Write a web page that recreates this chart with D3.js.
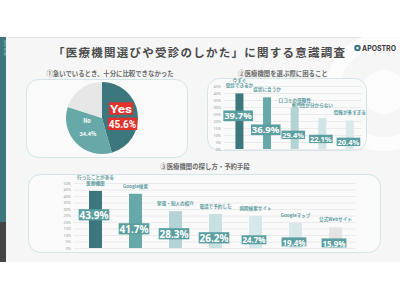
<!DOCTYPE html>
<html><head><meta charset="utf-8">
<script src="https://cdn.jsdelivr.net/npm/d3@7/dist/d3.min.js"></script>
<style>
html,body{margin:0;padding:0;background:#fff;}
svg{display:block;font-family:"Noto Sans CJK JP","Noto Sans",sans-serif;}
</style></head>
<body><svg id="c" width="400" height="300"></svg>
<script>
// ---- data ----
const titleText = "「医療機関選びや受診のしかた」に関する意識調査";
const q1Title = "①急いでいるとき、十分に比較できなかった";
const q2Title = "②医療機関を選ぶ際に困ること";
const q3Title = "③医療機関の探し方・予約手段";
const pieLabels = ["Yes", "No", "その他"];
const pieValues = [45.6, 34.4, 20.0];
const q2Categories = ["今すぐ\n受診できるか", "症状に合うか", "口コミの信頼性", "専門性が分からない", "情報が多すぎる"];
const q2Values = [39.7, 36.9, 29.4, 22.1, 20.4];
const q2Ticks = [0, 5, 10, 15, 20, 25, 30, 35, 40, 45];
const q3Categories = ["行ったことがある\n医療機関", "Google検索", "家族・知人の紹介", "電話で予約した", "病院検索サイト", "Googleマップ", "公式Webサイト"];
const q3Values = [43.9, 41.7, 28.3, 26.2, 24.7, 19.4, 15.9];
const q3Ticks = [0, 5, 10, 15, 20, 25, 30, 35, 40, 45, 50];

// ---- layout / style ----
const q2LabelAt = [23.6, 13.6, 10, 7.1, 5];
const q3LabelAt = [25.4, 14.6, 10.8, 7.7, 6.2, 4.6, 3.8];
const q2CatDx = [0, 0, 0, -10, 0];
const q2CatDy = [0, 0, 0, -5, 0];
const q2Colors = ["#3c777d", "#67a8a9", "#b3d3d4", "#d2e5e6", "#dce9ea"];
const q3Colors = ["#3c777d", "#67a8a9", "#b3d3d4", "#c9e0e1", "#d6e8e9", "#d9e8e9", "#e4e4e4"];
const pieColors = ["#3c777d", "#67a8a9", "#e6e6e6"];
const labelBg = "#5c9fa1";
const catColor = "#5a9c9e";

const svg = d3.select("#c");
// slide background
svg.append("rect").attr("x",0).attr("y",37).attr("width",400).attr("height",225).attr("fill","#f6f6f6");
svg.append("line").attr("x1",0).attr("x2",400).attr("y1",37.5).attr("y2",37.5).attr("stroke","#e2e2e2");
// decorative rings
const deco = svg.append("g").attr("opacity",0.85);
deco.append("circle").attr("cx",384).attr("cy",92).attr("r",52).attr("fill","none").attr("stroke","#fff").attr("stroke-width",14);
deco.append("circle").attr("cx",384).attr("cy",92).attr("r",22).attr("fill","#fff");
// left strip
svg.append("rect").attr("x",0).attr("y",37).attr("width",6).attr("height",185).attr("fill","#3c777d");
svg.append("rect").attr("x",0).attr("y",222).attr("width",6).attr("height",40).attr("fill","#454545");
svg.append("text").attr("transform","translate(3.8,40) rotate(90)").attr("font-size",2.5).attr("fill","#cfe2e3").text("APOSTRO INC.");

// title
svg.append("text").attr("x",53).attr("y",57).attr("font-size",11.5).attr("font-weight",700).attr("fill","#4a4a4a")
  .attr("textLength",292).attr("lengthAdjust","spacing").text(titleText);
// logo
const logo = svg.append("g");
logo.append("circle").attr("cx",357.5).attr("cy",48).attr("r",3.3).attr("fill","#3c777d");
logo.append("circle").attr("cx",357.5).attr("cy",48).attr("r",1.2).attr("fill","#f6f6f6");
logo.append("text").attr("x",362).attr("y",50.7).attr("font-family","Inter, 'Noto Sans', sans-serif").attr("font-size",7).attr("font-weight",700).attr("fill","#3a3a3a")
  .attr("textLength",34).attr("lengthAdjust","spacingAndGlyphs").text("APOSTRO");

// panels
function panel(x,y,w,h){
  svg.append("rect").attr("x",x).attr("y",y).attr("width",w).attr("height",h).attr("rx",12)
    .attr("fill","#fafafa").attr("stroke","#d3e5e6").attr("stroke-width",1);
}
panel(26.5,79.5,161,78);
panel(207.5,78.5,159,72);
panel(28.5,174.5,352,78);
function subtitle(t,x,y){
  svg.append("text").attr("x",x).attr("y",y).attr("text-anchor","middle").attr("font-size",6.4)
    .attr("font-weight",700).attr("fill","#6a6a6a").text(t);
}
subtitle(q1Title,110,75.5);
subtitle(q2Title,283,76);
subtitle(q3Title,205,169);

// ---- pie ----
const pie = d3.pie().sort(null).value(d=>d)(pieValues);
const arc = d3.arc().innerRadius(0).outerRadius(36);
const pg = svg.append("g").attr("transform","translate(102,118)");
pg.selectAll("path").data(pie).join("path").attr("d",arc).attr("fill",(d,i)=>pieColors[i]);
function redLabel(t,cx,cy,fs,w){
  const g = pg.append("g");
  g.append("rect").attr("x",cx-w/2-1).attr("y",cy-6.2).attr("width",w+2).attr("height",12.4).attr("fill","#e2302b");
  g.append("text").attr("x",cx).attr("y",cy).attr("text-anchor","middle").attr("dominant-baseline","central")
    .attr("font-family","Roboto, 'Noto Sans', sans-serif")
    .attr("font-size",fs).attr("font-weight",700).attr("fill","#fff")
    .attr("textLength",w).attr("lengthAdjust","spacingAndGlyphs").text(t);
}
redLabel(pieLabels[0],19,-9.5,11.5,22);
redLabel(pieValues[0].toFixed(1)+"%",20.5,5.8,11.5,27.5);
pg.append("text").attr("x",-15).attr("y",4.5).attr("text-anchor","middle").attr("font-size",5.5).attr("font-weight",700).attr("fill","#fff").text(pieLabels[1]);
pg.append("text").attr("x",-14).attr("y",18).attr("text-anchor","middle").attr("font-size",5.5).attr("font-weight",700).attr("fill","#fff").text(pieValues[1].toFixed(1)+"%");

// ---- bar chart helper ----
function barChart(opt){
  const g = svg.append("g");
  const y = d3.scaleLinear().domain([0, opt.max]).range([opt.y0, opt.y1]);
  const x = d3.scaleBand().domain(opt.cats).range(opt.xr).paddingInner(opt.pi).paddingOuter(opt.po);
  const ax = g.append("g").attr("transform",`translate(${opt.gx0},0)`)
    .call(d3.axisLeft(y).tickValues(opt.ticks).tickFormat(d=>d+"%").tickSize(-(opt.gx1-opt.gx0)).tickPadding(3));
  ax.select(".domain").remove();
  ax.selectAll(".tick line").attr("stroke","#e7e7e7").attr("stroke-width",0.8);
  ax.selectAll(".tick text").attr("font-size",3.8).attr("fill","#999").attr("font-family","'Noto Sans',sans-serif");
  g.selectAll("rect.bar").data(opt.vals).join("rect").attr("class","bar")
    .attr("x",(d,i)=>x(opt.cats[i])).attr("width",x.bandwidth())
    .attr("y",d=>y(d)).attr("height",d=>y(0)-y(d)).attr("fill",(d,i)=>opt.colors[i]);
  opt.cats.forEach((c,i)=>{
    const lines = c.split("\n");
    const cx = x(c)+x.bandwidth()/2 + (opt.catDx ? opt.catDx[i] : 0);
    const top = y(opt.vals[i]) - opt.catGap + (opt.catDy ? opt.catDy[i] : 0);
    lines.forEach((ln,j)=>{
      g.append("text").attr("x",cx).attr("y",top-(lines.length-1-j)*opt.catFs*1.2)
        .attr("text-anchor","middle").attr("font-size",opt.catFs).attr("font-weight",700)
        .attr("fill",catColor).text(ln);
    });
  });
  opt.vals.forEach((v,i)=>{
    const cx = x(opt.cats[i])+x.bandwidth()/2 - 1.5;
    const cy = y(opt.labelAt[i]);
    const fs = i < opt.bigCount ? opt.bigFs : opt.smallFs;
    const lg = g.append("g");
    const t = lg.append("text").attr("x",cx).attr("y",cy).attr("text-anchor","middle").attr("dominant-baseline","central")
      .attr("font-size",fs).attr("font-weight",700).attr("fill","#fff")
      .attr("font-family","'Noto Sans',sans-serif").text(v.toFixed(1)+"%");
    const b = t.node().getBBox();
    lg.insert("rect","text").attr("x",b.x-0.8).attr("y",cy-fs*0.58).attr("width",b.width+1.6).attr("height",fs*1.12).attr("fill",labelBg);
  });
}

barChart({cats:q2Categories, vals:q2Values, ticks:q2Ticks, max:45, y0:149, y1:86,
  xr:[225.5,363.8], pi:0.71, po:0.36, gx0:224, gx1:362, colors:q2Colors,
  labelAt:q2LabelAt, bigCount:2, bigFs:9.5, smallFs:7.5, catFs:4.6, catGap:6,
  catDx:q2CatDx, catDy:q2CatDy});
barChart({cats:q3Categories, vals:q3Values, ticks:q3Ticks, max:50, y0:248, y1:183,
  xr:[75,356], pi:0.675, po:0.35, gx0:74, gx1:356, colors:q3Colors,
  labelAt:q3LabelAt, bigCount:4, bigFs:10, smallFs:8, catFs:4.6, catGap:6});
</script></body></html>
